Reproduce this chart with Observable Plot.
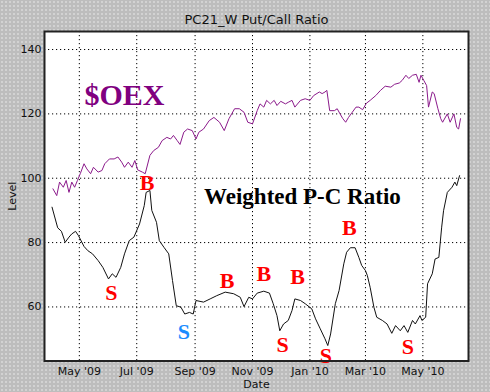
<!DOCTYPE html>
<html>
<head>
<meta charset="utf-8">
<script src="https://cdn.jsdelivr.net/npm/d3@7"></script>
<script src="https://cdn.jsdelivr.net/npm/@observablehq/plot@0.6"></script>
<style>
  html, body { margin: 0; padding: 0; }
  body {
    width: 490px; height: 392px; overflow: hidden;
    background-color: #bdbdbd;
    background-image: radial-gradient(circle, #d2d2d2 0.8px, transparent 1px);
    background-size: 4px 4px;
  }
  #chart { position: relative; width: 490px; height: 392px; }
</style>
</head>
<body>
<div id="chart"></div>
<script>
// ---- Data ----
const pcDates = ["2009-04-02","2009-04-08","2009-04-12","2009-04-16","2009-04-20","2009-04-23","2009-04-27","2009-04-30",
  "2009-05-06","2009-05-10","2009-05-15","2009-05-21","2009-05-26","2009-06-01","2009-06-05","2009-06-09","2009-06-14",
  "2009-06-18","2009-06-23","2009-06-28","2009-07-04","2009-07-09","2009-07-11","2009-07-15","2009-07-17","2009-07-22",
  "2009-07-25","2009-07-30","2009-08-04","2009-08-08","2009-08-12","2009-08-17","2009-08-21","2009-08-26","2009-08-30",
  "2009-09-02","2009-09-10","2009-09-17","2009-09-24","2009-10-03","2009-10-12","2009-10-19","2009-10-23","2009-10-28",
  "2009-11-01","2009-11-06","2009-11-13","2009-11-19","2009-11-23","2009-11-27","2009-11-30","2009-12-04","2009-12-09",
  "2009-12-13","2009-12-16","2009-12-22","2009-12-27","2010-01-03","2010-01-07","2010-01-12","2010-01-17","2010-01-20",
  "2010-01-23","2010-01-28","2010-02-01","2010-02-06","2010-02-09","2010-02-13","2010-02-18","2010-02-22","2010-02-25",
  "2010-03-01","2010-03-03","2010-03-06","2010-03-10","2010-03-13","2010-03-19","2010-03-24","2010-03-29","2010-04-02",
  "2010-04-07","2010-04-11","2010-04-15","2010-04-20","2010-04-23","2010-04-28","2010-04-30","2010-05-04","2010-05-06",
  "2010-05-11","2010-05-14","2010-05-18","2010-05-21","2010-05-23","2010-05-27","2010-06-01","2010-06-04","2010-06-06",
  "2010-06-09"];
const pcValues = [91.0,84.6,83.5,80.1,81.7,82.7,83.5,82.2,
  78.8,77.5,76.5,74.4,72.3,68.7,70.3,69.2,72.3,
  76.5,80.6,81.7,85.8,91.5,95.6,96.2,90.0,86.3,
  80.6,78.5,76.5,68.2,60.4,59.9,57.8,58.3,57.8,
  62.0,61.5,62.5,63.5,64.6,64.1,63.0,60.1,63.0,
  62.5,64.3,64.9,64.3,61.0,57.3,52.6,54.7,55.8,
  58.9,62.5,62.0,61.0,59.4,56.3,53.2,50.1,48.0,
  51.6,61.0,65.1,73.4,77.0,78.4,78.4,75.4,72.9,
  71.3,69.8,66.1,59.9,56.8,55.8,54.7,51.8,54.2,
  52.6,54.2,52.1,55.8,54.7,57.3,55.8,56.8,67.2,
  70.3,74.9,75.4,84.8,89.9,95.6,97.2,98.8,97.7,
  100.8];

const oexDates = ["2009-04-03","2009-04-07","2009-04-10","2009-04-14","2009-04-17","2009-04-20","2009-04-23","2009-04-26",
  "2009-04-29","2009-05-02","2009-05-06","2009-05-09","2009-05-13","2009-05-16","2009-05-21","2009-05-25","2009-05-28",
  "2009-06-02","2009-06-07","2009-06-11","2009-06-15","2009-06-18","2009-06-22","2009-06-26","2009-06-29","2009-07-02",
  "2009-07-07","2009-07-10","2009-07-15","2009-07-19","2009-07-24","2009-07-28","2009-08-02","2009-08-06","2009-08-09",
  "2009-08-13","2009-08-16","2009-08-20","2009-08-24","2009-08-29","2009-09-02","2009-09-05","2009-09-10","2009-09-16",
  "2009-09-21","2009-09-27","2009-10-02","2009-10-07","2009-10-13","2009-10-18","2009-10-23","2009-10-27","2009-11-01",
  "2009-11-06","2009-11-09","2009-11-13","2009-11-16","2009-11-20","2009-11-24","2009-11-27","2009-12-01","2009-12-06",
  "2009-12-09","2009-12-13","2009-12-16","2009-12-22","2009-12-27","2010-01-01","2010-01-05","2010-01-11","2010-01-14",
  "2010-01-17","2010-01-19","2010-01-22","2010-01-27","2010-01-30","2010-02-02","2010-02-05","2010-02-08","2010-02-11",
  "2010-02-15","2010-02-19","2010-02-22","2010-02-26","2010-03-02","2010-03-06","2010-03-12","2010-03-17","2010-03-22",
  "2010-03-28","2010-04-01","2010-04-06","2010-04-09","2010-04-13","2010-04-16","2010-04-20","2010-04-24","2010-04-27",
  "2010-04-29","2010-05-02","2010-05-05","2010-05-07","2010-05-11","2010-05-13","2010-05-17","2010-05-20","2010-05-22",
  "2010-05-27","2010-05-30","2010-06-03","2010-06-06","2010-06-08","2010-06-10"];
const oexValues = [96.7,94.6,98.8,97.2,99.3,95.6,98.8,97.2,
  99.3,101.4,104.5,102.9,101.4,103.4,101.9,102.4,104.5,
  106.0,106.0,106.6,105.0,103.4,105.0,103.4,105.5,102.6,
  101.9,101.4,107.1,108.6,109.6,111.7,112.7,112.2,113.3,
  111.7,110.5,114.3,115.3,114.8,112.2,114.3,115.3,117.9,
  118.9,117.4,114.8,118.5,121.6,121.6,120.5,117.4,116.9,
  121.0,123.1,122.1,124.2,123.1,124.2,122.6,123.9,123.1,
  123.6,124.2,122.1,124.2,124.7,124.2,125.7,126.8,126.3,
  126.8,127.3,121.0,121.0,121.6,120.0,118.5,117.4,118.9,
  120.5,122.1,122.1,121.3,123.3,124.2,125.7,127.3,128.6,
  128.3,129.2,129.6,130.4,132.0,131.0,132.0,132.3,129.8,
  132.0,130.4,128.8,122.1,126.8,126.3,121.6,118.5,117.4,
  120.0,117.4,120.0,115.8,115.3,118.5];

// Buy / sell signal annotations
const sigDates = ["2009-07-12","2009-06-04","2009-08-20","2009-10-05","2009-11-13","2009-12-19","2009-12-03","2010-01-18","2010-02-12","2010-04-15"];
const sigValues = [98.5,64.5,52.3,68.2,70.4,69.3,48.1,44.7,84.4,47.7];
const sigLabels = ["B","S","S","B","B","B","S","S","B","S"];
const sigHighlight = [false,false,true,false,false,false,false,false,false,false];

// Series name annotations
const seriesNames = ["$OEX","Weighted P-C Ratio"];
const seriesNameDates = ["2009-06-18","2009-12-24"];
const seriesNameValues = [125.7,94.2];

// Axes
const xTickDates = ["2009-05-01","2009-07-01","2009-09-01","2009-11-01","2010-01-01","2010-03-01","2010-05-01"];
const xTickLabels = ["May '09","Jul '09","Sep '09","Nov '09","Jan '10","Mar '10","May '10"];
const yTicks = [60,80,100,120,140];
const xDomain = ["2009-03-25","2010-06-18T12:00"];
const yDomain = [43.2,145.6];
const title = "PC21_W Put/Call Ratio";

// ---- Build tables ----
const pc = pcDates.map((d,i) => ({date: new Date(d), value: pcValues[i]}));
const oex = oexDates.map((d,i) => ({date: new Date(d), value: oexValues[i]}));
const sigs = sigDates.map((d,i) => ({date: new Date(d), value: sigValues[i], label: sigLabels[i], hi: sigHighlight[i]}));
const names = seriesNames.map((n,i) => ({name: n, date: new Date(seriesNameDates[i]), value: seriesNameValues[i]}));
const xTicks = xTickDates.map(d => new Date(d));
const xLabelOf = new Map(xTicks.map((d,i) => [+d, xTickLabels[i]]));

const chart = Plot.plot({
  width: 490,
  height: 392,
  marginLeft: 44,
  marginRight: 22,
  marginTop: 31,
  marginBottom: 31.5,
  style: {fontFamily: "DejaVu Sans", fontSize: "11px", background: "transparent", color: "#111"},
  x: {type: "utc", domain: xDomain.map(d => new Date(d)), ticks: xTicks, tickFormat: d => xLabelOf.get(+d),
      tickSize: 0, tickPadding: 6, label: "Date", labelArrow: false, labelAnchor: "center", labelOffset: 27},
  y: {domain: yDomain, ticks: yTicks, tickSize: 0, tickPadding: 3, label: "Level", labelArrow: false, labelAnchor: "center", labelOffset: 36},
  marks: [
    Plot.frame({fill: "white"}),
    Plot.ruleX(xTicks, {stroke: "#000", strokeDasharray: "1.2,2.8", strokeWidth: 1}),
    Plot.ruleY(yTicks, {stroke: "#000", strokeDasharray: "1.2,2.8", strokeWidth: 1}),
    Plot.line(oex, {x: "date", y: "value", stroke: "#8b1a8b", strokeWidth: 1}),
    Plot.line(pc, {x: "date", y: "value", stroke: "#111", strokeWidth: 1}),
    Plot.text(names, {x: "date", y: "value", text: "name",
      fill: (d, i) => i === 0 ? "#800080" : "#000",
      fontSize: (d, i) => i === 0 ? 30 : 23,
      fontFamily: "Liberation Serif", fontWeight: "bold"}),
    Plot.text(sigs, {x: "date", y: "value", text: "label",
      fill: d => d.hi ? "#1a8cff" : "#ff0000",
      fontSize: 22, fontFamily: "Liberation Serif", fontWeight: "bold"}),
    Plot.frame({stroke: "#222", strokeWidth: 2}),
    Plot.text([title], {frameAnchor: "top", dy: -17, fontSize: 13, fill: "#111"})
  ]
});
document.getElementById("chart").appendChild(chart);
</script>
</body>
</html>
